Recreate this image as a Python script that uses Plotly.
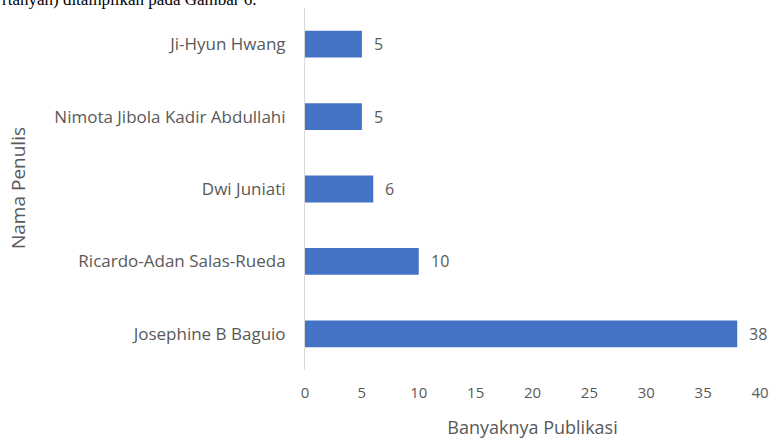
import plotly.graph_objects as go

# Publication counts per author (bottom to top)
authors = [
    "Josephine B Baguio",
    "Ricardo-Adan Salas-Rueda",
    "Dwi Juniati",
    "Nimota Jibola Kadir Abdullahi",
    "Ji-Hyun Hwang",
]
publications = [38, 10, 6, 5, 5]
x_ticks = [0, 5, 10, 15, 20, 25, 30, 35, 40]

gray = "#595959"
font_family = "Open Sans, Liberation Sans, sans-serif"

fig = go.Figure(
    go.Bar(
        x=publications,
        y=authors,
        orientation="h",
        marker=dict(color="#4472C4", line=dict(width=0)),
    )
)

# value labels to the right of each bar
annotations = [
    dict(
        x=v,
        y=a,
        xref="x",
        yref="y",
        text=str(v),
        xanchor="left",
        yanchor="middle",
        xshift=10,
        showarrow=False,
        font=dict(family=font_family, size=16, color=gray),
    )
    for a, v in zip(authors, publications)
]

# vertical axis title placed at the far left
annotations.append(
    dict(
        text="Nama Penulis",
        xref="paper",
        yref="paper",
        x=-287 / 455,
        y=(370 - 188) / 362,
        xanchor="center",
        yanchor="middle",
        textangle=-90,
        showarrow=False,
        font=dict(family=font_family, size=19, color=gray),
    )
)

# running text line above the chart
annotations.append(
    dict(
        text="rtanyah) ditampilkan pada Gambar 6.",
        xref="paper",
        yref="paper",
        x=-305 / 455,
        y=0.993,
        xanchor="left",
        yanchor="bottom",
        showarrow=False,
        font=dict(family="Liberation Serif, serif", size=17, color="black"),
    )
)

fig.update_layout(
    width=774,
    height=441,
    margin=dict(l=305, r=14, t=8, b=71),
    paper_bgcolor="white",
    plot_bgcolor="white",
    bargap=0.63,
    showlegend=False,
    font=dict(family=font_family, color=gray, size=16),
    xaxis=dict(
        range=[0, 40],
        tickvals=x_ticks,
        showgrid=False,
        zeroline=False,
        showline=False,
        ticks="",
        automargin=False,
        ticklabelstandoff=12,
        tickfont=dict(size=15, color=gray),
        title=dict(text="Banyaknya Publikasi", font=dict(size=18, color=gray), standoff=20),
    ),
    yaxis=dict(
        categoryorder="array",
        categoryarray=authors,
        showgrid=False,
        zeroline=False,
        showline=True,
        linecolor="#D9D9D9",
        linewidth=1,
        ticks="",
        automargin=False,
        ticklabelstandoff=15,
        tickfont=dict(size=17, color=gray),
    ),
    annotations=annotations,
)

fig.write_html("out.html")
